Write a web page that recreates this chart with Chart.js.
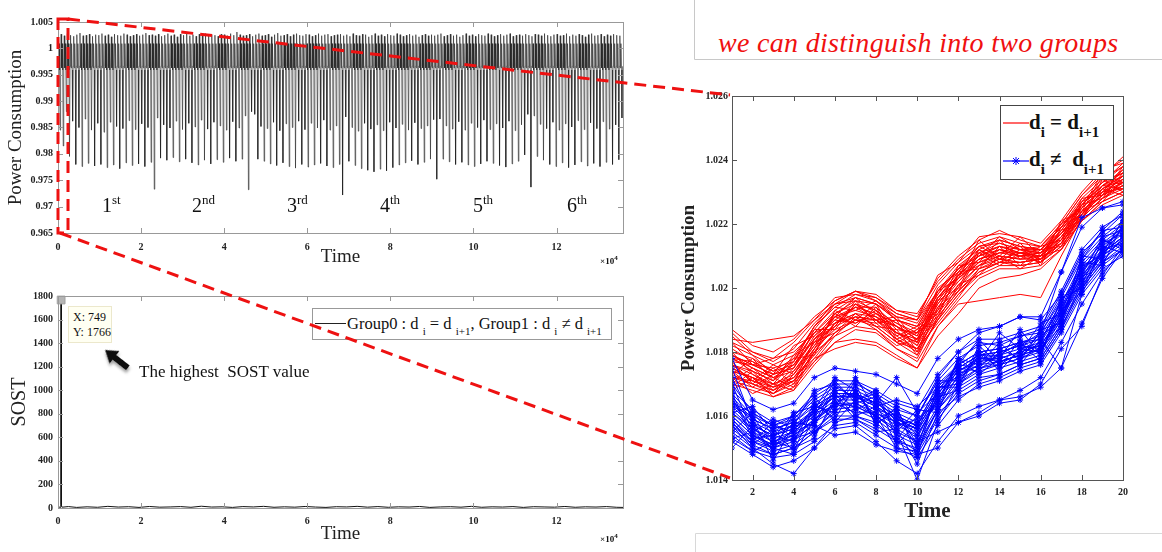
<!DOCTYPE html>
<html>
<head>
<meta charset="utf-8">
<script src="https://cdn.jsdelivr.net/npm/chart.js@4.4.1/dist/chart.umd.min.js"></script>
<style>
  body { margin: 0; background: #fff; }
  #page { position: relative; width: 1162px; height: 552px; overflow: hidden; font-family: 'Liberation Serif', 'Times New Roman', serif; color: #111; }
  canvas { position: absolute; }
  .note { position: absolute; white-space: nowrap; line-height: 1; }
  .sup { font-size: 13px; vertical-align: 8px; }
  .sub { font-size: 11px; vertical-align: -6px; }
  .tiny { font-weight: bold; font-size: 9px; }
  .tiny span { font-size: 7px; vertical-align: 4px; }
  #tip { position: absolute; left: 68px; top: 306px; width: 44px; height: 37px; background: #fffff2; border: 1px solid #ece8cc; box-sizing: border-box; font-size: 12px; line-height: 15px; padding: 3px 0 0 4px; white-space: nowrap; }
  #sostLegend { position: absolute; left: 312px; top: 308px; width: 300px; height: 32px; border: 1px solid #999; background: #fff; box-sizing: border-box; font-size: 16px; }
  #groupLegend { position: absolute; left: 1000px; top: 105px; width: 114px; height: 75px; border: 1px solid #444; background: #fff; box-sizing: border-box; font-weight: bold; font-size: 21px; }
  #groupLegend .row { position: absolute; left: 2px; white-space: nowrap; line-height: 1; }
  #groupLegend .sub { font-size: 15px; vertical-align: -8px; }
  svg { position: absolute; left: 0; top: 0; }
</style>
</head>
<body>
<div id="page">
  <canvas id="topChart" width="650" height="280" style="left:0;top:0"></canvas>
  <canvas id="sostChart" width="650" height="272" style="left:0;top:280px"></canvas>
  <canvas id="groupChart" width="492" height="452" style="left:670px;top:80px"></canvas>

  <div class="note" style="left:102px;top:193px;font-size:20px">1<span class="sup">st</span></div>
  <div class="note" style="left:192px;top:193px;font-size:20px">2<span class="sup">nd</span></div>
  <div class="note" style="left:287px;top:193px;font-size:20px">3<span class="sup">rd</span></div>
  <div class="note" style="left:380px;top:193px;font-size:20px">4<span class="sup">th</span></div>
  <div class="note" style="left:473px;top:193px;font-size:20px">5<span class="sup">th</span></div>
  <div class="note" style="left:567px;top:193px;font-size:20px">6<span class="sup">th</span></div>
  <div class="note tiny" style="left:600px;top:255px">×10<span>4</span></div>
  <div class="note tiny" style="left:600px;top:533px">×10<span>4</span></div>

  <div id="tip">X: 749<br>Y: 1766</div>
  <div class="note" style="left:139px;top:363px;font-size:17px">The highest&nbsp; SOST value</div>
  <div id="sostLegend">
    <div style="position:absolute;left:2px;top:14px;width:31px;border-top:1px solid #222"></div>
    <div class="note" style="left:34px;top:7px;font-size:16.5px">Group0 : d <span class="sub">i</span> = d <span class="sub">i+1</span>, Group1 : d <span class="sub">i</span> ≠ d <span class="sub">i+1</span></div>
  </div>

  <div class="note" style="left:718px;top:29px;font-style:italic;font-size:28px;letter-spacing:0.3px;color:#f01010">we can distinguish into two groups</div>
  <div id="groupLegend">
    <svg width="26" height="12" style="left:2px;top:11px" viewBox="0 0 26 12">
      <line x1="0" y1="6" x2="26" y2="6" stroke="#f00" stroke-width="1.2"/>
    </svg>
    <div class="row" style="left:28px;top:6px">d<span class="sub">i</span> = d<span class="sub">i+1</span></div>
    <svg width="26" height="12" style="left:2px;top:49px" viewBox="0 0 26 12">
      <line x1="0" y1="6" x2="26" y2="6" stroke="#00f" stroke-width="1.2"/>
      <path d="M13 2V10M9 6H17M10 3L16 9M16 3L10 9" stroke="#00f" stroke-width="1"/>
    </svg>
    <div class="row" style="left:28px;top:43px">d<span class="sub">i</span> ≠&nbsp; d<span class="sub">i+1</span></div>
  </div>

  <svg width="1162" height="552" viewBox="0 0 1162 552" style="pointer-events:none">
    <defs>
      <filter id="shadow" x="-50%" y="-50%" width="200%" height="200%">
        <feDropShadow dx="2" dy="2" stdDeviation="1.5" flood-color="#777" flood-opacity="0.7"/>
      </filter>
    </defs>
    <path d="M694.5 0V59.5H1162" fill="none" stroke="#c8c8c8"/>
    <path d="M695.5 552V533.5H1162" fill="none" stroke="#d8d8d8"/>
    <g fill="none" stroke="#ee1111" stroke-width="3" stroke-dasharray="12 7">
      <rect x="58" y="19" width="10" height="214"/>
      <path d="M68 19L730 95"/>
      <path d="M60 233L730 478"/>
    </g>
    <g transform="translate(105,350) rotate(38)" filter="url(#shadow)">
      <polygon points="0,0 12,-8 12,-3 29,-3 29,3 12,3 12,8" fill="#111"/>
    </g>
  </svg>
</div>

<script>
// ---- top trace: one value per cycle, six groups of thirty cycles ----
const peaks = [
  1.0040,1.0027,1.0024,1.0028,1.0025,1.0023,1.0026,1.0029,1.0024,1.0025,1.0027,1.0023,1.0026,1.0025,1.0028,1.0024,1.0026,1.0022,1.0027,1.0025,1.0024,1.0028,1.0026,1.0023,1.0025,1.0027,1.0024,1.0026,1.0029,1.0025,
  1.0026,1.0024,1.0027,1.0023,1.0025,1.0028,1.0024,1.0026,1.0022,1.0027,1.0025,1.0029,1.0024,1.0026,1.0023,1.0027,1.0025,1.0028,1.0024,1.0026,1.0025,1.0023,1.0027,1.0026,1.0024,1.0028,1.0025,1.0031,1.0026,1.0024,
  1.0025,1.0027,1.0023,1.0026,1.0028,1.0024,1.0025,1.0027,1.0022,1.0026,1.0029,1.0024,1.0025,1.0027,1.0023,1.0026,1.0028,1.0025,1.0024,1.0027,1.0026,1.0023,1.0025,1.0028,1.0024,1.0026,1.0027,1.0023,1.0025,1.0026,
  1.0027,1.0024,1.0026,1.0023,1.0028,1.0025,1.0024,1.0027,1.0026,1.0022,1.0025,1.0028,1.0024,1.0026,1.0023,1.0027,1.0025,1.0024,1.0028,1.0026,1.0023,1.0025,1.0027,1.0024,1.0026,1.0022,1.0025,1.0027,1.0024,1.0026,
  1.0024,1.0026,1.0028,1.0023,1.0025,1.0027,1.0024,1.0026,1.0022,1.0025,1.0028,1.0024,1.0026,1.0023,1.0027,1.0025,1.0024,1.0028,1.0026,1.0023,1.0025,1.0027,1.0024,1.0026,1.0028,1.0023,1.0025,1.0026,1.0024,1.0027,
  1.0025,1.0023,1.0027,1.0026,1.0024,1.0028,1.0025,1.0023,1.0026,1.0027,1.0024,1.0025,1.0028,1.0023,1.0026,1.0024,1.0027,1.0025,1.0022,1.0026,1.0028,1.0024,1.0025,1.0027,1.0023,1.0026,1.0024,1.0027,1.0025,1.0024
];
const troughs = [
  0.9845,0.9815,0.9880,0.9795,0.9862,0.9780,0.9850,0.9776,0.9866,0.9782,0.9845,0.9777,0.9858,0.9780,0.9841,0.9774,0.9860,0.9779,0.9852,0.9772,0.9848,0.9783,0.9863,0.9778,0.9846,0.9781,0.9857,0.9776,0.9850,0.9784,
  0.9733,0.9868,0.9792,0.9855,0.9788,0.9849,0.9793,0.9862,0.9785,0.9846,0.9790,0.9858,0.9783,0.9851,0.9779,0.9864,0.9788,0.9847,0.9781,0.9860,0.9789,0.9853,0.9784,0.9845,0.9792,0.9861,0.9786,0.9849,0.9790,0.9872,
  0.9732,0.9880,0.9875,0.9790,0.9852,0.9786,0.9848,0.9781,0.9860,0.9778,0.9844,0.9783,0.9857,0.9776,0.9850,0.9773,0.9862,0.9780,0.9846,0.9775,0.9858,0.9779,0.9849,0.9782,0.9864,0.9777,0.9845,0.9774,0.9853,0.9780,
  0.9722,0.9870,0.9786,0.9850,0.9778,0.9843,0.9772,0.9858,0.9769,0.9847,0.9766,0.9855,0.9771,0.9844,0.9768,0.9860,0.9774,0.9849,0.9779,0.9856,0.9783,0.9845,0.9787,0.9859,0.9780,0.9848,0.9784,0.9853,0.9790,0.9865,
  0.9752,0.9866,0.9790,0.9853,0.9785,0.9847,0.9780,0.9861,0.9784,0.9845,0.9779,0.9858,0.9776,0.9850,0.9781,0.9864,0.9786,0.9846,0.9782,0.9857,0.9778,0.9849,0.9775,0.9862,0.9781,0.9844,0.9786,0.9855,0.9798,0.9875,
  0.9737,0.9872,0.9795,0.9856,0.9788,0.9848,0.9780,0.9860,0.9776,0.9845,0.9783,0.9857,0.9774,0.9851,0.9779,0.9863,0.9785,0.9846,0.9777,0.9859,0.9782,0.9848,0.9776,0.9861,0.9784,0.9847,0.9780,0.9855,0.9789,0.9868
];
const ripple = [0.9963, 1.0009, 0.9959, 0.9966]; // levels the trace passes between peak and trough
const traceEnd = 136000;
const topXTicks = [0, 20000, 40000, 60000, 80000, 100000, 120000];
const topYTicks = [0.965, 0.97, 0.975, 0.98, 0.985, 0.99, 0.995, 1, 1.005];

// ---- SOST ----
const sostTime = [0,250,500,700,749,800,1000,2500,4500,7000,9500,12000,14500,17000,19500,22000,24500,27000,29500,32000,34500,37000,39500,42000,44500,47000,49500,52000,54500,57000,59500,62000,64500,67000,69500,72000,74500,77000,79500,82000,84500,87000,89500,92000,94500,97000,99500,102000,104500,107000,109500,112000,114500,117000,119500,122000,124500,127000,129500,132000,134500,136000];
const sostValue = [4,8,6,30,1766,20,7,12,5,10,6,14,8,11,5,13,7,9,12,6,15,8,10,5,12,9,14,6,10,7,13,8,5,11,9,14,7,12,6,10,8,13,5,9,11,7,14,6,10,8,12,5,11,9,7,13,6,10,8,12,6,5];
const sostPeak = { x: 749, y: 1766 };
const sostYTicks = [0, 200, 400, 600, 800, 1000, 1200, 1400, 1600, 1800];

// ---- two groups, 20 time steps ----
const timeSteps = [1,2,3,4,5,6,7,8,9,10,11,12,13,14,15,16,17,18,19,20];
const sameBit = [
  [1.0187,1.0182,1.0180,1.0184,1.0191,1.0196,1.0199,1.0197,1.0193,1.0192,1.0202,1.0209,1.0214,1.0216,1.0214,1.0213,1.0220,1.0229,1.0236,1.0240],
  [1.0170,1.0168,1.0166,1.0169,1.0177,1.0185,1.0188,1.0187,1.0181,1.0177,1.0188,1.0196,1.0203,1.0206,1.0206,1.0207,1.0212,1.0221,1.0227,1.0230],
  [1.0178,1.0175,1.0172,1.0176,1.0186,1.0192,1.0195,1.0193,1.0189,1.0186,1.0197,1.0205,1.0211,1.0213,1.0211,1.0211,1.0218,1.0227,1.0233,1.0236],
  [1.0174,1.0172,1.0169,1.0171,1.0180,1.0188,1.0191,1.0190,1.0185,1.0181,1.0192,1.0200,1.0207,1.0209,1.0208,1.0209,1.0214,1.0223,1.0229,1.0232],
  [1.0181,1.0177,1.0174,1.0178,1.0188,1.0194,1.0198,1.0196,1.0191,1.0189,1.0199,1.0207,1.0212,1.0215,1.0213,1.0212,1.0219,1.0228,1.0234,1.0238],
  [1.0172,1.0171,1.0168,1.0172,1.0179,1.0186,1.0190,1.0189,1.0184,1.0180,1.0190,1.0198,1.0205,1.0208,1.0207,1.0208,1.0213,1.0222,1.0228,1.0231],
  [1.0176,1.0173,1.0170,1.0172,1.0178,1.0181,1.0183,1.0182,1.0178,1.0175,1.0188,1.0195,1.0196,1.0197,1.0198,1.0197,1.0210,1.0222,1.0228,1.0233],
  [1.0184,1.0183,1.0184,1.0185,1.0190,1.0195,1.0197,1.0195,1.0191,1.0190,1.0199,1.0206,1.0210,1.0213,1.0211,1.0210,1.0217,1.0226,1.0232,1.0235],
  [1.0177,1.0176,1.0173,1.0175,1.0185,1.0191,1.0194,1.0194,1.0188,1.0185,1.0196,1.0204,1.0210,1.0212,1.0211,1.0210,1.0216,1.0224,1.0230,1.0234],
  [1.0173,1.0170,1.0167,1.0173,1.0182,1.0189,1.0192,1.0191,1.0186,1.0183,1.0194,1.0202,1.0208,1.0210,1.0209,1.0209,1.0215,1.0224,1.0230,1.0233],
  [1.0179,1.0176,1.0175,1.0177,1.0186,1.0193,1.0197,1.0195,1.0190,1.0187,1.0198,1.0206,1.0213,1.0214,1.0212,1.0211,1.0217,1.0226,1.0232,1.0237],
  [1.0175,1.0172,1.0170,1.0173,1.0181,1.0189,1.0191,1.0190,1.0186,1.0182,1.0193,1.0201,1.0207,1.0210,1.0209,1.0210,1.0215,1.0223,1.0229,1.0233],
  [1.0182,1.0179,1.0176,1.0179,1.0187,1.0195,1.0196,1.0195,1.0190,1.0188,1.0199,1.0206,1.0211,1.0214,1.0212,1.0212,1.0218,1.0226,1.0232,1.0236],
  [1.0171,1.0169,1.0167,1.0170,1.0178,1.0186,1.0190,1.0188,1.0183,1.0179,1.0190,1.0198,1.0204,1.0207,1.0207,1.0208,1.0213,1.0221,1.0226,1.0229],
  [1.0176,1.0174,1.0171,1.0176,1.0184,1.0190,1.0194,1.0192,1.0188,1.0184,1.0196,1.0204,1.0209,1.0212,1.0210,1.0211,1.0216,1.0225,1.0231,1.0235],
  [1.0180,1.0178,1.0174,1.0176,1.0184,1.0192,1.0196,1.0193,1.0187,1.0186,1.0197,1.0204,1.0210,1.0213,1.0212,1.0211,1.0217,1.0225,1.0231,1.0234],
  [1.0174,1.0172,1.0166,1.0168,1.0176,1.0183,1.0187,1.0186,1.0181,1.0178,1.0191,1.0199,1.0205,1.0208,1.0208,1.0209,1.0214,1.0223,1.0229,1.0232],
  [1.0178,1.0177,1.0172,1.0174,1.0183,1.0191,1.0193,1.0191,1.0186,1.0184,1.0195,1.0203,1.0209,1.0211,1.0210,1.0210,1.0216,1.0225,1.0231,1.0235],
  [1.0183,1.0180,1.0177,1.0181,1.0189,1.0195,1.0199,1.0196,1.0192,1.0190,1.0201,1.0208,1.0213,1.0215,1.0213,1.0212,1.0219,1.0227,1.0233,1.0238],
  [1.0175,1.0171,1.0169,1.0172,1.0181,1.0187,1.0190,1.0190,1.0184,1.0181,1.0191,1.0199,1.0206,1.0209,1.0208,1.0209,1.0214,1.0222,1.0228,1.0232],
  [1.0172,1.0170,1.0168,1.0171,1.0177,1.0183,1.0184,1.0183,1.0179,1.0175,1.0185,1.0192,1.0200,1.0203,1.0204,1.0206,1.0212,1.0221,1.0227,1.0230],
  [1.0179,1.0176,1.0173,1.0177,1.0188,1.0196,1.0199,1.0198,1.0193,1.0191,1.0203,1.0210,1.0215,1.0218,1.0215,1.0213,1.0220,1.0229,1.0235,1.0241],
  [1.0183,1.0176,1.0178,1.0180,1.0186,1.0189,1.0194,1.0190,1.0191,1.0183,1.0199,1.0203,1.0215,1.0209,1.0214,1.0208,1.0221,1.0224,1.0235,1.0232],
  [1.0169,1.0174,1.0168,1.0174,1.0182,1.0191,1.0189,1.0193,1.0183,1.0186,1.0191,1.0205,1.0206,1.0213,1.0207,1.0212,1.0213,1.0226,1.0228,1.0236],
  [1.0177,1.0170,1.0175,1.0170,1.0184,1.0188,1.0196,1.0189,1.0190,1.0180,1.0196,1.0200,1.0212,1.0208,1.0212,1.0209,1.0218,1.0221,1.0234,1.0230],
  [1.0173,1.0178,1.0171,1.0178,1.0179,1.0193,1.0190,1.0195,1.0185,1.0188,1.0193,1.0207,1.0208,1.0215,1.0209,1.0213,1.0215,1.0228,1.0229,1.0238],
  [1.0180,1.0173,1.0169,1.0175,1.0187,1.0187,1.0195,1.0191,1.0188,1.0182,1.0197,1.0202,1.0209,1.0211,1.0213,1.0207,1.0219,1.0223,1.0232,1.0231],
  [1.0171,1.0175,1.0172,1.0169,1.0181,1.0192,1.0188,1.0194,1.0184,1.0187,1.0192,1.0204,1.0207,1.0212,1.0210,1.0211,1.0214,1.0227,1.0230,1.0237],
  [1.0185,1.0179,1.0173,1.0182,1.0185,1.0191,1.0197,1.0192,1.0189,1.0185,1.0200,1.0205,1.0213,1.0210,1.0216,1.0210,1.0220,1.0225,1.0236,1.0233],
  [1.0176,1.0171,1.0176,1.0173,1.0183,1.0186,1.0192,1.0188,1.0187,1.0179,1.0194,1.0199,1.0211,1.0207,1.0211,1.0208,1.0216,1.0222,1.0231,1.0229],
  [1.0179,1.0175,1.0170,1.0177,1.0188,1.0194,1.0193,1.0196,1.0190,1.0188,1.0198,1.0206,1.0210,1.0216,1.0212,1.0213,1.0219,1.0226,1.0233,1.0239],
  [1.0168,1.0172,1.0167,1.0171,1.0180,1.0185,1.0191,1.0187,1.0182,1.0184,1.0190,1.0201,1.0204,1.0210,1.0206,1.0210,1.0212,1.0224,1.0227,1.0234],
  [1.0186,1.0180,1.0178,1.0183,1.0190,1.0197,1.0198,1.0197,1.0192,1.0190,1.0204,1.0208,1.0216,1.0217,1.0216,1.0214,1.0221,1.0230,1.0237,1.0239],
  [1.0174,1.0169,1.0173,1.0175,1.0184,1.0190,1.0189,1.0192,1.0186,1.0183,1.0195,1.0203,1.0208,1.0211,1.0211,1.0209,1.0215,1.0224,1.0229,1.0235],
  [1.0178,1.0174,1.0171,1.0179,1.0183,1.0188,1.0195,1.0190,1.0188,1.0184,1.0197,1.0204,1.0212,1.0209,1.0211,1.0212,1.0217,1.0223,1.0232,1.0233],
  [1.0172,1.0167,1.0170,1.0168,1.0180,1.0189,1.0192,1.0188,1.0183,1.0181,1.0189,1.0197,1.0206,1.0208,1.0210,1.0208,1.0214,1.0222,1.0230,1.0231]
];
const diffBit = [
  [1.0178,1.0165,1.0162,1.0164,1.0172,1.0175,1.0174,1.0173,1.0170,1.0167,1.0178,1.0184,1.0187,1.0188,1.0191,1.0191,1.0205,1.0222,1.0225,1.0227],
  [1.0152,1.0148,1.0144,1.0146,1.0150,1.0156,1.0157,1.0152,1.0146,1.0142,1.0152,1.0160,1.0163,1.0165,1.0168,1.0172,1.0183,1.0195,1.0205,1.0211],
  [1.0165,1.0158,1.0155,1.0157,1.0162,1.0167,1.0167,1.0164,1.0160,1.0157,1.0168,1.0175,1.0179,1.0180,1.0182,1.0184,1.0194,1.0207,1.0214,1.0219],
  [1.0159,1.0153,1.0150,1.0152,1.0158,1.0162,1.0163,1.0160,1.0156,1.0152,1.0163,1.0171,1.0175,1.0176,1.0178,1.0180,1.0190,1.0203,1.0210,1.0215],
  [1.0170,1.0161,1.0157,1.0160,1.0166,1.0170,1.0170,1.0167,1.0163,1.0160,1.0171,1.0178,1.0182,1.0183,1.0185,1.0186,1.0197,1.0209,1.0216,1.0221],
  [1.0155,1.0150,1.0148,1.0150,1.0155,1.0160,1.0160,1.0157,1.0153,1.0149,1.0160,1.0168,1.0172,1.0173,1.0176,1.0178,1.0188,1.0200,1.0208,1.0213],
  [1.0160,1.0154,1.0151,1.0154,1.0158,1.0164,1.0163,1.0160,1.0155,1.0152,1.0155,1.0158,1.0161,1.0165,1.0166,1.0169,1.0175,1.0189,1.0203,1.0212],
  [1.0163,1.0157,1.0154,1.0156,1.0161,1.0166,1.0166,1.0163,1.0159,1.0156,1.0167,1.0174,1.0178,1.0179,1.0181,1.0183,1.0193,1.0206,1.0213,1.0218],
  [1.0157,1.0150,1.0145,1.0142,1.0150,1.0158,1.0160,1.0158,1.0152,1.0150,1.0162,1.0170,1.0174,1.0176,1.0178,1.0181,1.0190,1.0202,1.0210,1.0215],
  [1.0161,1.0156,1.0152,1.0154,1.0159,1.0163,1.0164,1.0160,1.0155,1.0140,1.0158,1.0170,1.0175,1.0177,1.0179,1.0181,1.0191,1.0204,1.0211,1.0216],
  [1.0167,1.0160,1.0157,1.0159,1.0165,1.0169,1.0169,1.0166,1.0162,1.0160,1.0172,1.0180,1.0186,1.0188,1.0191,1.0190,1.0198,1.0210,1.0218,1.0224],
  [1.0158,1.0152,1.0149,1.0151,1.0156,1.0161,1.0162,1.0159,1.0154,1.0151,1.0162,1.0169,1.0173,1.0175,1.0177,1.0179,1.0189,1.0201,1.0209,1.0214],
  [1.0164,1.0159,1.0156,1.0158,1.0164,1.0168,1.0168,1.0165,1.0161,1.0158,1.0169,1.0176,1.0180,1.0181,1.0183,1.0185,1.0195,1.0208,1.0215,1.0220],
  [1.0162,1.0156,1.0153,1.0155,1.0161,1.0166,1.0167,1.0164,1.0172,1.0161,1.0167,1.0174,1.0178,1.0178,1.0180,1.0182,1.0192,1.0205,1.0212,1.0217],
  [1.0153,1.0149,1.0147,1.0148,1.0152,1.0157,1.0158,1.0154,1.0150,1.0147,1.0157,1.0165,1.0170,1.0172,1.0175,1.0177,1.0187,1.0199,1.0207,1.0212],
  [1.0166,1.0159,1.0156,1.0158,1.0163,1.0167,1.0167,1.0164,1.0160,1.0157,1.0168,1.0176,1.0180,1.0181,1.0183,1.0184,1.0175,1.0198,1.0212,1.0219],
  [1.0160,1.0154,1.0151,1.0153,1.0159,1.0164,1.0164,1.0161,1.0157,1.0154,1.0165,1.0172,1.0176,1.0177,1.0179,1.0181,1.0191,1.0203,1.0211,1.0216],
  [1.0159,1.0152,1.0150,1.0153,1.0157,1.0154,1.0155,1.0151,1.0149,1.0148,1.0150,1.0158,1.0160,1.0164,1.0165,1.0170,1.0181,1.0188,1.0204,1.0213],
  [1.0168,1.0162,1.0158,1.0160,1.0167,1.0171,1.0171,1.0168,1.0164,1.0162,1.0173,1.0180,1.0184,1.0184,1.0186,1.0188,1.0199,1.0212,1.0219,1.0223],
  [1.0164,1.0157,1.0154,1.0156,1.0162,1.0166,1.0166,1.0163,1.0159,1.0156,1.0167,1.0175,1.0179,1.0180,1.0182,1.0186,1.0205,1.0219,1.0225,1.0226],
  [1.0156,1.0151,1.0148,1.0150,1.0155,1.0159,1.0159,1.0156,1.0152,1.0148,1.0159,1.0167,1.0171,1.0173,1.0176,1.0178,1.0188,1.0200,1.0208,1.0212],
  [1.0161,1.0155,1.0152,1.0155,1.0160,1.0165,1.0165,1.0162,1.0158,1.0155,1.0166,1.0173,1.0177,1.0178,1.0180,1.0182,1.0192,1.0204,1.0211,1.0216],
  [1.0163,1.0160,1.0151,1.0158,1.0157,1.0168,1.0162,1.0165,1.0157,1.0159,1.0164,1.0176,1.0175,1.0181,1.0178,1.0185,1.0190,1.0207,1.0210,1.0219],
  [1.0158,1.0151,1.0156,1.0149,1.0163,1.0161,1.0168,1.0158,1.0161,1.0150,1.0169,1.0170,1.0180,1.0175,1.0184,1.0179,1.0195,1.0201,1.0215,1.0213],
  [1.0170,1.0155,1.0159,1.0156,1.0160,1.0171,1.0164,1.0166,1.0155,1.0162,1.0161,1.0178,1.0176,1.0183,1.0177,1.0187,1.0189,1.0210,1.0209,1.0222],
  [1.0150,1.0157,1.0149,1.0161,1.0154,1.0164,1.0161,1.0161,1.0158,1.0153,1.0166,1.0168,1.0181,1.0174,1.0181,1.0180,1.0193,1.0199,1.0213,1.0211],
  [1.0166,1.0153,1.0154,1.0152,1.0164,1.0159,1.0170,1.0157,1.0163,1.0147,1.0170,1.0172,1.0178,1.0177,1.0179,1.0183,1.0196,1.0204,1.0216,1.0218],
  [1.0155,1.0161,1.0157,1.0155,1.0158,1.0169,1.0166,1.0164,1.0151,1.0158,1.0163,1.0175,1.0174,1.0180,1.0182,1.0181,1.0188,1.0208,1.0207,1.0220],
  [1.0172,1.0159,1.0146,1.0157,1.0161,1.0163,1.0172,1.0162,1.0160,1.0154,1.0165,1.0177,1.0183,1.0182,1.0185,1.0187,1.0198,1.0211,1.0217,1.0223],
  [1.0154,1.0149,1.0152,1.0150,1.0153,1.0166,1.0159,1.0155,1.0156,1.0145,1.0161,1.0166,1.0169,1.0171,1.0174,1.0176,1.0186,1.0198,1.0206,1.0210],
  [1.0161,1.0163,1.0155,1.0159,1.0166,1.0158,1.0165,1.0168,1.0153,1.0160,1.0171,1.0171,1.0179,1.0179,1.0176,1.0184,1.0194,1.0203,1.0214,1.0217],
  [1.0167,1.0154,1.0150,1.0156,1.0162,1.0172,1.0168,1.0159,1.0162,1.0151,1.0167,1.0174,1.0177,1.0186,1.0181,1.0182,1.0191,1.0206,1.0211,1.0221],
  [1.0157,1.0152,1.0158,1.0153,1.0155,1.0162,1.0171,1.0166,1.0158,1.0156,1.0164,1.0178,1.0173,1.0178,1.0187,1.0179,1.0197,1.0200,1.0212,1.0214],
  [1.0175,1.0158,1.0153,1.0161,1.0163,1.0167,1.0160,1.0163,1.0165,1.0163,1.0169,1.0169,1.0182,1.0176,1.0180,1.0189,1.0192,1.0209,1.0218,1.0219],
  [1.0153,1.0155,1.0150,1.0148,1.0159,1.0164,1.0167,1.0160,1.0150,1.0149,1.0162,1.0173,1.0176,1.0179,1.0183,1.0177,1.0187,1.0202,1.0208,1.0216],
  [1.0164,1.0161,1.0154,1.0157,1.0168,1.0170,1.0165,1.0167,1.0159,1.0157,1.0170,1.0176,1.0184,1.0177,1.0179,1.0186,1.0196,1.0205,1.0215,1.0212]
];
const groupXTicks = [2,4,6,8,10,12,14,16,18,20];
const groupYTicks = [1.014, 1.016, 1.018, 1.02, 1.022, 1.024, 1.026];

Chart.defaults.font.family = "'Liberation Serif', 'Times New Roman', serif";
Chart.defaults.color = '#222';
Chart.defaults.animation = false;

const tickFont = { family: "'Liberation Serif', serif", size: 10, weight: 'bold' };
const fixedTicks = values => scale => { scale.ticks = values.map(v => ({ value: v })); };
const trim = v => String(+Number(v).toFixed(4));

// matlab style frame with inward ticks on all four sides
const boxTicks = {
  id: 'boxTicks',
  afterDatasetsDraw(chart, args, opts) {
    const { ctx, chartArea: a, scales: { x, y } } = chart;
    const len = opts.length || 5;
    ctx.save();
    ctx.strokeStyle = opts.color || '#888';
    ctx.lineWidth = 1;
    ctx.beginPath();
    x.ticks.forEach(t => {
      const px = Math.round(x.getPixelForValue(t.value)) + 0.5;
      ctx.moveTo(px, a.bottom); ctx.lineTo(px, a.bottom - len);
      ctx.moveTo(px, a.top); ctx.lineTo(px, a.top + len);
    });
    y.ticks.forEach(t => {
      const py = Math.round(y.getPixelForValue(t.value)) + 0.5;
      ctx.moveTo(a.left, py); ctx.lineTo(a.left + len, py);
      ctx.moveTo(a.right, py); ctx.lineTo(a.right - len, py);
    });
    ctx.stroke();
    ctx.strokeRect(Math.round(a.left) + 0.5, Math.round(a.top) + 0.5, Math.round(a.right - a.left), Math.round(a.bottom - a.top));
    ctx.restore();
  }
};

function axis(opts) {
  return Object.assign({
    type: 'linear',
    grid: { display: false, drawTicks: false },
    border: { display: false }
  }, opts);
}

// top: power trace
const topPoints = [];
const step = traceEnd / (peaks.length * 6);
peaks.forEach((p, i) => {
  [p, ripple[0], ripple[1], ripple[2], troughs[i], ripple[3]].forEach((v, k) => {
    topPoints.push({ x: (i * 6 + k) * step, y: v });
  });
});

new Chart(document.getElementById('topChart'), {
  type: 'line',
  data: { datasets: [{ data: topPoints, borderColor: 'rgba(30,30,30,0.6)', borderWidth: 1, pointRadius: 0, tension: 0 }] },
  options: {
    responsive: false,
    layout: { padding: { left: 0, top: 22, right: 27, bottom: 0 } },
    plugins: { legend: { display: false }, tooltip: { enabled: false }, boxTicks: { color: '#999' } },
    scales: {
      x: axis({
        min: 0, max: traceEnd,
        afterBuildTicks: fixedTicks(topXTicks),
        afterFit: s => { s.height = 47; },
        ticks: { font: tickFont, padding: 8, maxRotation: 0, callback: v => String(v / 10000) },
        title: { display: true, text: 'Time', font: { size: 19 }, padding: { top: 0, bottom: 12 } }
      }),
      y: axis({
        min: 0.965, max: 1.005,
        afterBuildTicks: fixedTicks(topYTicks),
        afterFit: s => { s.width = 58; },
        ticks: { font: tickFont, padding: 5, callback: trim },
        title: { display: true, text: 'Power Consumption', font: { size: 19 }, padding: { top: 5, bottom: 0 } }
      })
    }
  },
  plugins: [boxTicks]
});

// bottom left: SOST
new Chart(document.getElementById('sostChart'), {
  type: 'line',
  data: {
    datasets: [
      { data: [sostPeak], pointStyle: 'rect', pointRadius: 5.5, pointBackgroundColor: '#b4b4b4', pointBorderColor: '#a0a0a0', showLine: false, clip: false },
      { data: sostTime.map((t, i) => ({ x: t, y: sostValue[i] })), borderColor: '#111', borderWidth: 1, pointRadius: 0, tension: 0 }
    ]
  },
  options: {
    responsive: false,
    layout: { padding: { left: 0, top: 16, right: 27, bottom: 0 } },
    plugins: { legend: { display: false }, tooltip: { enabled: false }, boxTicks: { color: '#999' } },
    scales: {
      x: axis({
        min: 0, max: traceEnd,
        afterBuildTicks: fixedTicks(topXTicks),
        afterFit: s => { s.height = 44; },
        ticks: { font: tickFont, padding: 7, maxRotation: 0, callback: v => String(v / 10000) },
        title: { display: true, text: 'Time', font: { size: 19 }, padding: { top: 0, bottom: 7 } }
      }),
      y: axis({
        min: 0, max: 1800,
        afterBuildTicks: fixedTicks(sostYTicks),
        afterFit: s => { s.width = 58; },
        ticks: { font: tickFont, padding: 5, callback: v => String(v) },
        title: { display: true, text: 'SOST', font: { size: 20 }, padding: { top: 8, bottom: 0 } }
      })
    }
  },
  plugins: [boxTicks]
});

// right: the two groups
const toPts = row => row.map((v, i) => ({ x: timeSteps[i], y: v }));
const groupSets = [];
diffBit.forEach(row => groupSets.push({
  data: toPts(row), borderColor: '#0000ff', borderWidth: 1, tension: 0,
  pointStyle: 'star', pointRadius: 3, pointBorderWidth: 1, pointBorderColor: '#0000ff', pointBackgroundColor: '#0000ff'
}));
sameBit.forEach(row => groupSets.push({
  data: toPts(row), borderColor: '#ff0000', borderWidth: 1, tension: 0, pointRadius: 0
}));

new Chart(document.getElementById('groupChart'), {
  type: 'line',
  data: { datasets: groupSets },
  options: {
    responsive: false,
    layout: { padding: { left: 0, top: 16, right: 39, bottom: 0 } },
    plugins: { legend: { display: false }, tooltip: { enabled: false }, boxTicks: { color: '#555' } },
    scales: {
      x: axis({
        min: 1, max: 20,
        afterBuildTicks: fixedTicks(groupXTicks),
        afterFit: s => { s.height = 52; },
        ticks: { font: tickFont, padding: 6, maxRotation: 0 },
        title: { display: true, text: 'Time', font: { size: 21, weight: 'bold' }, padding: { top: 0, bottom: 8 } }
      }),
      y: axis({
        min: 1.014, max: 1.026,
        afterBuildTicks: fixedTicks(groupYTicks),
        afterFit: s => { s.width = 62; },
        ticks: { font: tickFont, padding: 4, callback: trim },
        title: { display: true, text: 'Power Consumption', font: { size: 19, weight: 'bold' }, padding: { top: 8, bottom: 0 } }
      })
    }
  },
  plugins: [boxTicks]
});
</script>
</body>
</html>
